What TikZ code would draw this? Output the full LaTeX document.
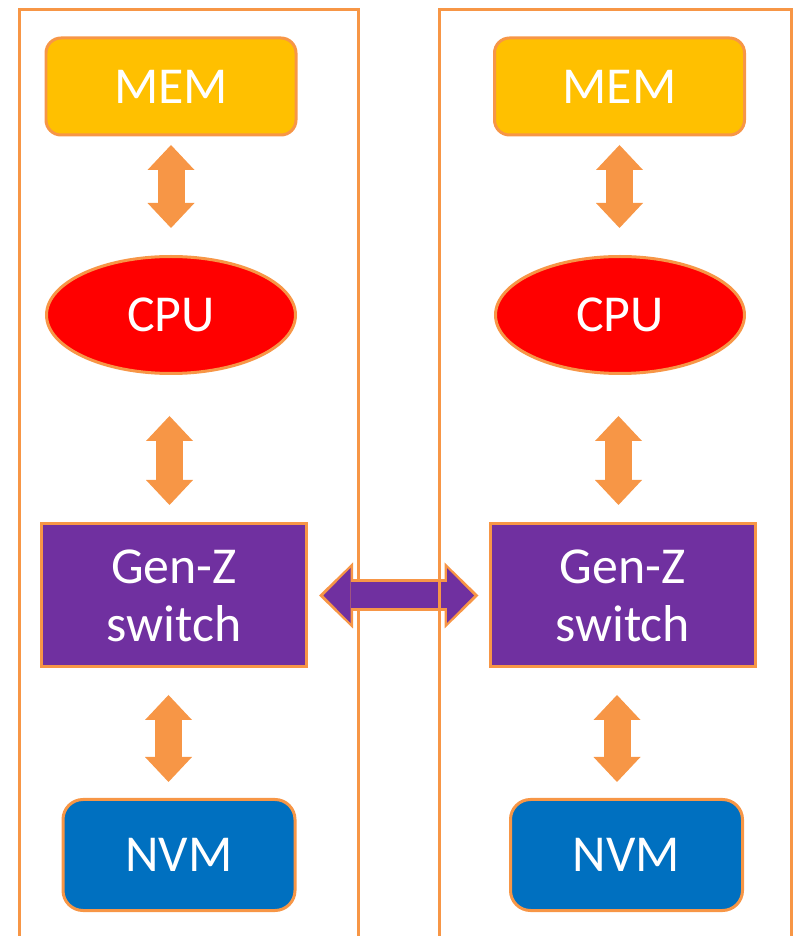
\documentclass[tikz,border=0pt]{standalone}
\usepackage{fontspec}
\setmainfont{Carlito}
\usetikzlibrary{arrows.meta,shapes.geometric}

\definecolor{lineorange}{HTML}{F79646}
\definecolor{memyellow}{HTML}{FFC000}
\definecolor{cpured}{HTML}{FF0000}
\definecolor{genzpurple}{HTML}{7030A0}
\definecolor{nvmblue}{HTML}{0070C0}

\begin{document}
\begin{tikzpicture}
    % Define styles
    \tikzstyle{colframe}=[draw=lineorange, line width=0.06cm]
    \tikzstyle{blockbase}=[draw=lineorange, line width=0.06cm, text=white, inner sep=0pt, align=center, font=\fontsize{29.5}{33}\selectfont]
    \tikzstyle{memnode}=[blockbase, rectangle, rounded corners=0.3cm, fill=memyellow, minimum width=5.0cm, minimum height=1.94cm]
    \tikzstyle{cpunode}=[blockbase, ellipse, fill=cpured, minimum width=4.98cm, minimum height=2.34cm]
    \tikzstyle{genznode}=[blockbase, rectangle, fill=genzpurple, minimum width=5.3cm, minimum height=2.86cm]
    \tikzstyle{nvmnode}=[blockbase, rectangle, rounded corners=0.4cm, fill=nvmblue, minimum width=4.64cm, minimum height=2.22cm]
    \tikzstyle{vlink}=[draw=lineorange, line width=0.54cm, {Triangle[length=0.5cm, width=0.94cm, line width=0pt]}-{Triangle[length=0.5cm, width=0.94cm, line width=0pt]}]

    \useasboundingbox (0,0) rectangle (15.88,18.72);

    % Left frame
    \draw[colframe] (0.4,-0.2) |- (7.16,18.53) -- (7.16,-0.2);

    % Left machine
    \node[memnode] (memL) at (3.42,16.99) {MEM};
    \node[cpunode] (cpuL) at (3.42,12.42) {CPU};
    \node[genznode] (genzL) at (3.48,6.81) {Gen-Z\\switch};
    \node[nvmnode] (nvmL) at (3.58,1.62) {NVM};

    \draw[vlink, shorten <=0.17cm, shorten >=0.54cm] (memL.south) -- (memL.south |- cpuL.north);
    \draw[vlink, shorten <=0.82cm, shorten >=0.35cm] ([xshift=-0.03cm]cpuL.south) -- ([xshift=-0.03cm]cpuL.south |- genzL.north);
    \draw[vlink, shorten <=0.53cm, shorten >=0.32cm] ([xshift=-0.11cm]genzL.south) -- ([xshift=-0.11cm]genzL.south |- nvmL.north);

    % Right machine
    \node[memnode] (memR) at (12.39,16.99) {MEM};
    \node[cpunode] (cpuR) at (12.40,12.42) {CPU};
    \node[genznode] (genzR) at (12.45,6.81) {Gen-Z\\switch};
    \node[nvmnode] (nvmR) at (12.53,1.62) {NVM};

    \draw[vlink, shorten <=0.17cm, shorten >=0.54cm] (memR.south) -- (memR.south |- cpuR.north);
    \draw[vlink, shorten <=0.82cm, shorten >=0.35cm] ([xshift=-0.03cm]cpuR.south) -- ([xshift=-0.03cm]cpuR.south |- genzR.north);
    \draw[vlink, shorten <=0.53cm, shorten >=0.32cm] ([xshift=-0.11cm]genzR.south) -- ([xshift=-0.11cm]genzR.south |- nvmR.north);

    % Switch to switch link (orange rim, purple body)
    \draw[draw=lineorange, line width=0.64cm, shorten <=0.22cm, shorten >=0.2cm, {Triangle[length=0.68cm, width=1.32cm, line width=0pt]}-{Triangle[length=0.68cm, width=1.32cm, line width=0pt]}] (genzL.east) -- (genzR.west);
    \draw[draw=genzpurple, line width=0.52cm, shorten <=0.31cm, shorten >=0.29cm, {Triangle[length=0.54cm, width=1.1cm, line width=0pt]}-{Triangle[length=0.54cm, width=1.1cm, line width=0pt]}] (genzL.east) -- (genzR.west);

    % Right frame
    \draw[colframe] (8.78,-0.2) |- (15.82,18.53) -- (15.82,-0.2);
\end{tikzpicture}
\end{document}
